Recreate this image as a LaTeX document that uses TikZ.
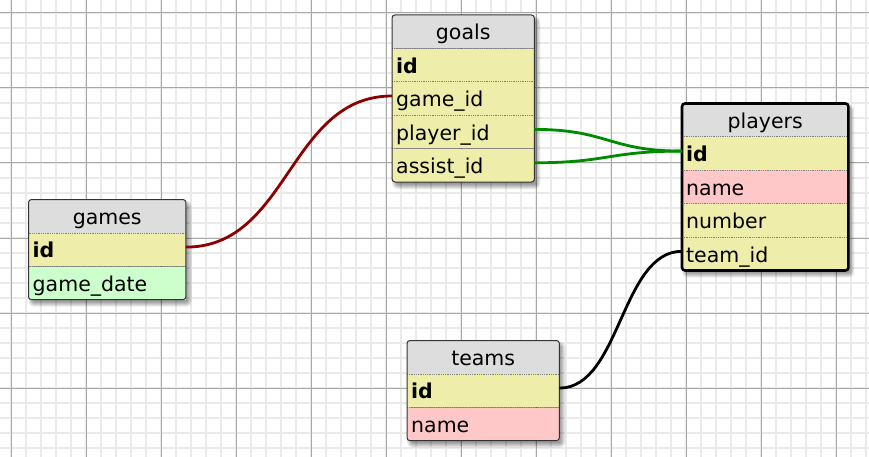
\documentclass[tikz,border=0pt]{standalone}
\usepackage{fontspec}
\setmainfont{DejaVu Sans}
\usetikzlibrary{positioning}

\definecolor{headgray}{HTML}{DDDDDD}
\definecolor{keyyellow}{HTML}{EEEEAA}
\definecolor{textpink}{HTML}{FFC8C8}
\definecolor{dategreen}{HTML}{CCFFCC}
\definecolor{fkred}{HTML}{8B0000}
\definecolor{fkgreen}{HTML}{008A00}
\definecolor{gridminor}{HTML}{EAEAEA}
\definecolor{gridmajor}{HTML}{A8A8A8}

\pgfdeclarelayer{back}
\pgfsetlayers{back,main}

\tikzset{
  cell/.style={rectangle, inner xsep=4pt, inner ysep=4pt,
    text height=20.7pt, text depth=4.3pt, text width=#1,
    font=\fontsize{20.5}{24}\selectfont},
  headcell/.style={cell=#1, fill=headgray, align=center},
  rowcell/.style={cell=#1, fill=keyyellow, align=left},
  sepline/.style={gray, densely dotted, line width=0.8pt},
  border/.style={draw=black!80, line width=1pt, rounded corners=3pt},
  minorline/.style={gridminor, line width=1.6pt},
  majorline/.style={gridmajor, line width=1pt},
  fk/.style={line width=2.8pt}
}

\begin{document}
\begin{tikzpicture}[x=1pt,y=-1pt]
\useasboundingbox (0,0) rectangle (869,457);

\begin{pgfonlayer}{back}
\fill[white] (0,0) rectangle (869,457);
\foreach \x in {11,26,...,866}
{
   \draw[minorline] (\x,0)--(\x,457);
}
\foreach \y in {13,28,...,448}
{
   \draw[minorline] (0,\y)--(869,\y);
}
\foreach \x in {11,86,...,836}
{
   \draw[majorline] (\x,0)--(\x,457);
}
\foreach \y in {13,88,...,388}
{
   \draw[majorline] (0,\y)--(869,\y);
}
\end{pgfonlayer}

% goals
\node[headcell=134pt, anchor=north west] (goals) at (392,15) {goals};
\node[rowcell=134pt, below=0pt of goals] (goals-id) {\textbf{id}};
\node[rowcell=134pt, below=0pt of goals-id] (goals-game) {game\_id};
\node[rowcell=134pt, below=0pt of goals-game] (goals-player) {player\_id};
\node[rowcell=134pt, below=0pt of goals-player] (goals-assist) {assist\_id};

% players
\node[headcell=158pt, anchor=north west] (players) at (682,103.5) {players};
\node[rowcell=158pt, below=0pt of players] (players-id) {\textbf{id}};
\node[rowcell=158pt, fill=textpink, below=0pt of players-id] (players-name) {name};
\node[rowcell=158pt, below=0pt of players-name] (players-number) {number};
\node[rowcell=158pt, below=0pt of players-number] (players-team) {team\_id};

% games
\node[headcell=149pt, anchor=north west] (games) at (28.5,199.5) {games};
\node[rowcell=149pt, below=0pt of games] (games-id) {\textbf{id}};
\node[rowcell=149pt, fill=dategreen, below=0pt of games-id] (games-date) {game\_date};

% teams
\node[headcell=144pt, anchor=north west] (teams) at (407,340.5) {teams};
\node[rowcell=144pt, below=0pt of teams] (teams-id) {\textbf{id}};
\node[rowcell=144pt, fill=textpink, below=0pt of teams-id] (teams-name) {name};

\foreach \r in {goals-id,goals-game,goals-player,goals-assist,
  players-id,players-name,players-number,players-team,
  games-id,games-date,teams-id,teams-name}
{
   \draw[sepline] (\r.north west)--(\r.north east);
}

\draw[border] (goals.north west) rectangle (goals-assist.south east);
\draw[border] (games.north west) rectangle (games-date.south east);
\draw[border] (teams.north west) rectangle (teams-name.south east);
\draw[border, draw=black, line width=2.6pt] (players.north west) rectangle (players-team.south east);

% soft shadows
\begin{pgfonlayer}{back}
\foreach \t/\b in {goals/goals-assist, games/games-date, players/players-team, teams/teams-name}
{
   \foreach \i in {1,...,6}
      \fill[black, opacity=0.08, rounded corners=\i pt]
        ([xshift={(6-\i)*1pt}, yshift={(\i-7)*1pt}]\t.north west) rectangle
        ([xshift={\i*1pt}, yshift={-(1+\i)*1pt}]\b.south east);
}
\end{pgfonlayer}

% links
\draw[fk, fkred] ([yshift=2.5pt]games-id.east) .. controls +(103,0) and +(-103,0) .. ([yshift=2.5pt]goals-game.west);
\draw[fk, fkgreen] ([yshift=2.5pt]goals-player.east) .. controls +(73,0) and +(-73,0) .. ([yshift=2.5pt]players-id.west);
\draw[fk, fkgreen] ([yshift=2.5pt]goals-assist.east) .. controls +(73,0) and +(-73,0) .. ([yshift=2.5pt]players-id.west);
\draw[fk, black] ([yshift=2.5pt]teams-id.east) .. controls +(61,0) and +(-61,0) .. ([yshift=2.5pt]players-team.west);

\end{tikzpicture}
\end{document}
